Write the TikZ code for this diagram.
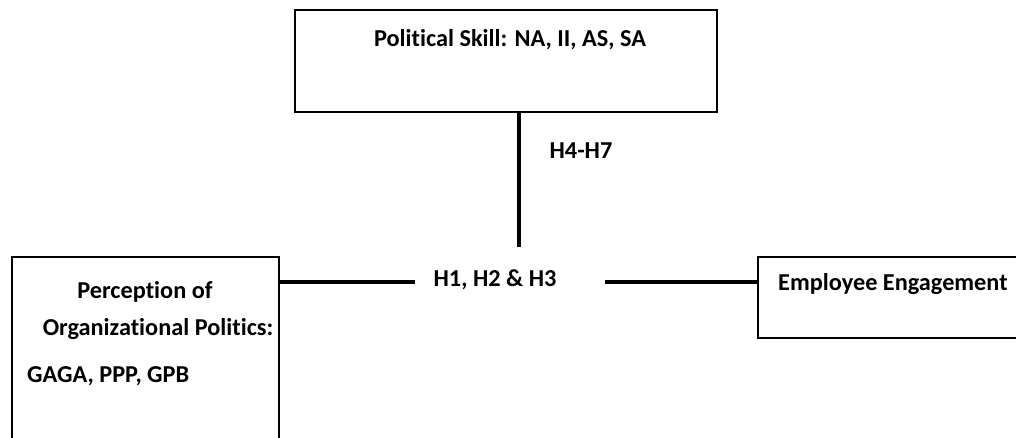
\documentclass[tikz,border=0pt]{standalone}
\usepackage{fontspec}
\setmainfont{Carlito}[Ligatures=NoCommon]
\begin{document}
\begin{tikzpicture}[x=1pt, y=-1pt,
  box/.style={draw, line width=1.6pt, inner sep=0pt, outer sep=0pt, anchor=north west},
  lbl/.style={font=\fontsize{24.3}{28}\selectfont\bfseries, inner sep=0pt, anchor=base},
  link/.style={line width=3.2pt}]
\useasboundingbox (0,0) rectangle (1016,438);
\begin{scope}
  \clip (0,0) rectangle (1016,438);
  % construct boxes
  \node[box, minimum width=422pt, minimum height=102pt] (ps)  at (295,10)  {};
  \node[box, minimum width=267pt, minimum height=220pt] (pop) at (12,257)  {};
  \node[box, minimum width=300pt, minimum height=81pt]  (ee)  at (758,257) {};
\end{scope}

% box texts
\node[lbl] (pstxt)  at (510,47)  {Political Skill: NA, II, AS, SA};
\node[lbl] (pop1)   at (145,298) {Perception of};
\node[lbl] (pop2)   at (158,335) {Organizational Politics:};
\node[lbl, anchor=base west] (pop3) at (27,382) {GAGA, PPP, GPB};
\node[lbl, anchor=base west] (eetxt) at (778,290) {Employee Engagement};

% hypothesis labels
\node[lbl] (h47) at (581,159) {H4-H7};
\node[lbl] (h13) at (495,286) {H1, H2 \& H3};

% connectors
\coordinate (hub)  at (519,247);
\coordinate (lgap) at (415,282);
\coordinate (rgap) at (605,282);
\draw[link] (ps.south -| hub) -- (hub);
\draw[link] (pop.east |- lgap) -- (lgap);
\draw[link] (rgap) -- (ee.west |- rgap);
\end{tikzpicture}
\end{document}
